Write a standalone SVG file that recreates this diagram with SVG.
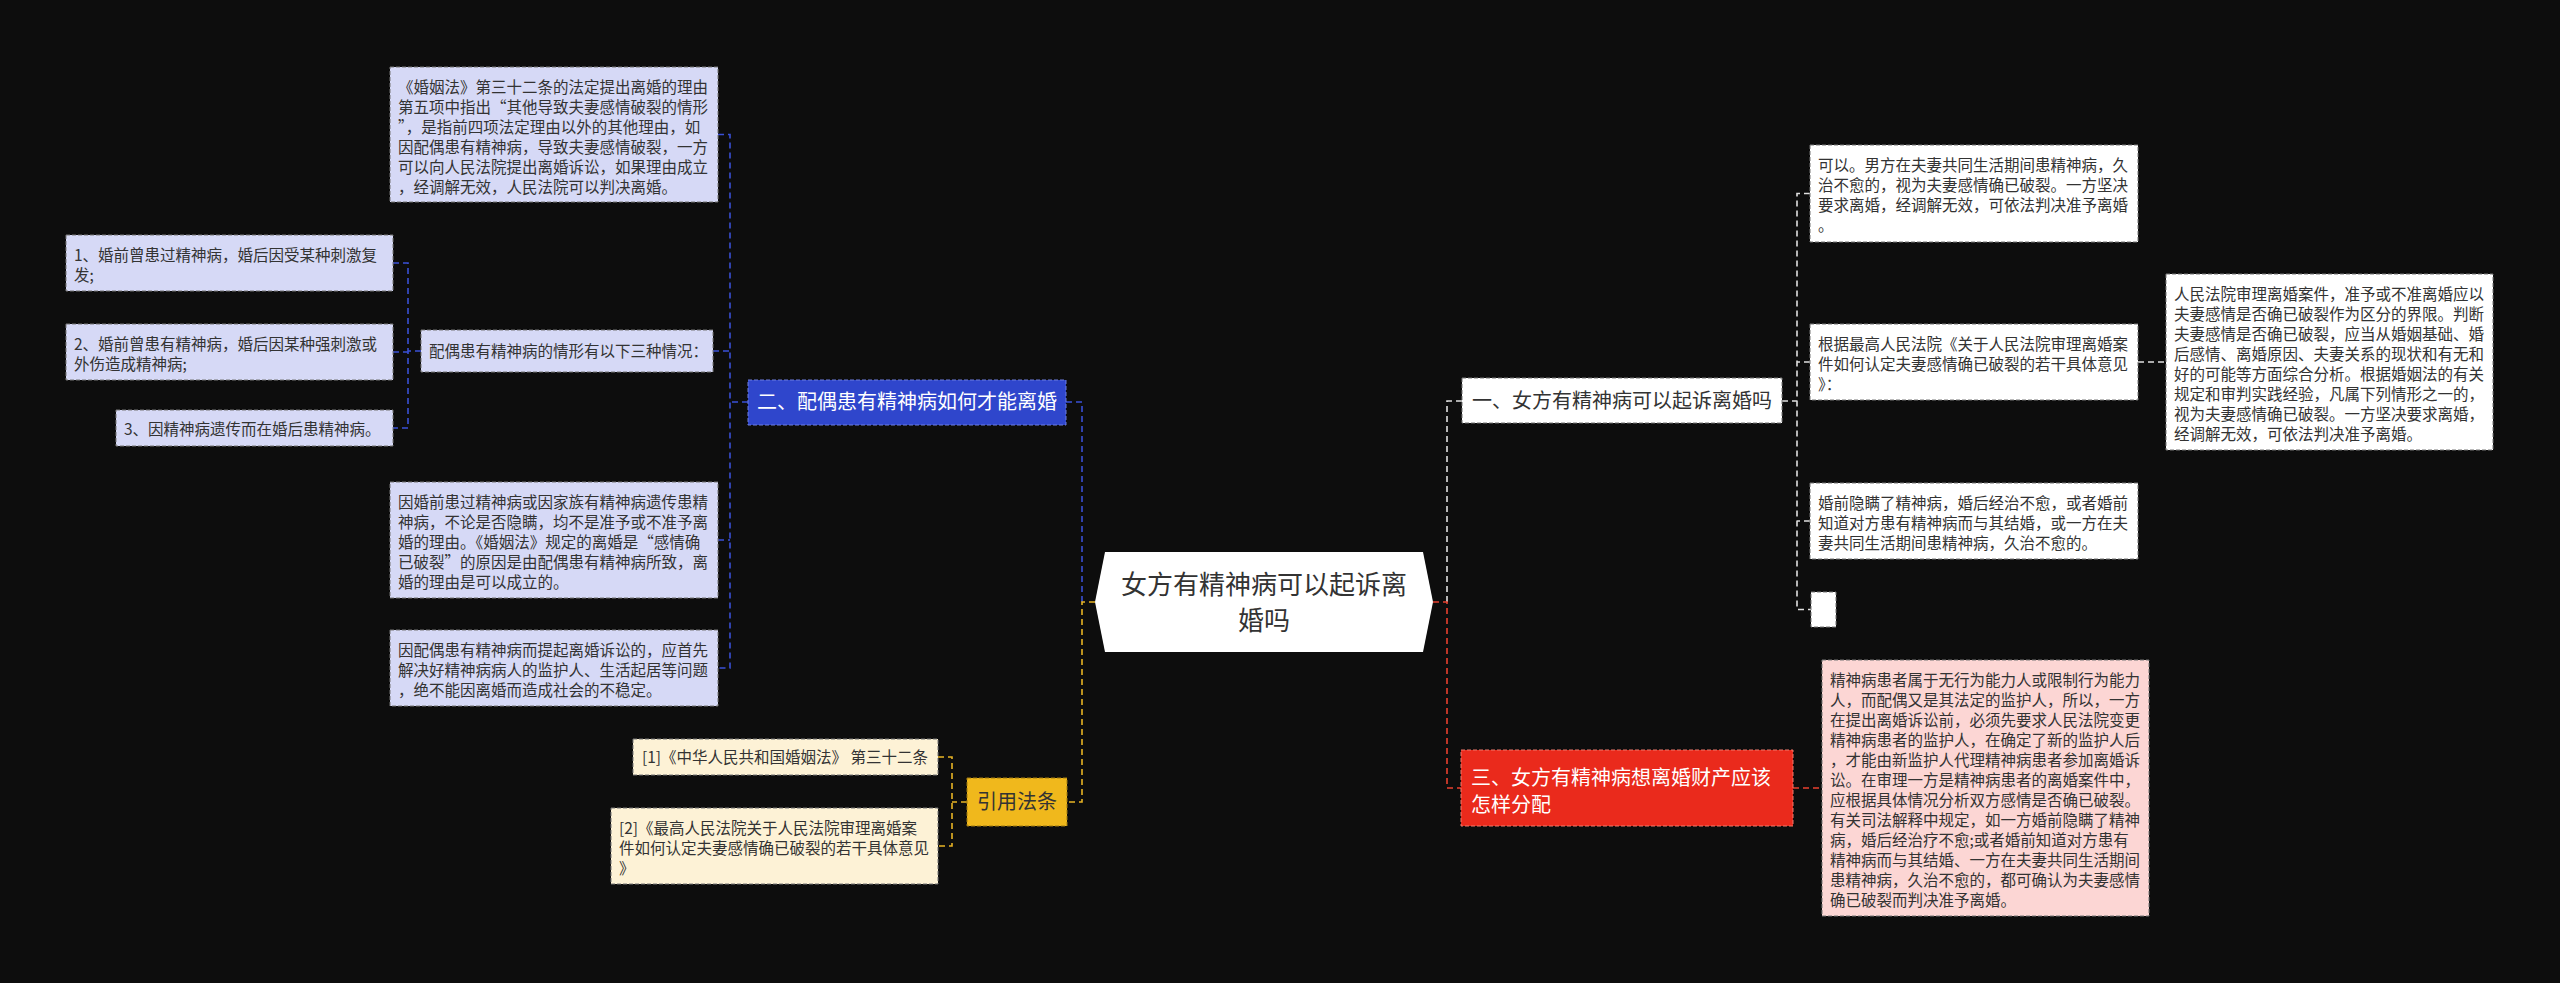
<svg xmlns="http://www.w3.org/2000/svg" width="2560" height="983" viewBox="0 0 2560 983">
<style>
text{font-family:"Noto Sans CJK SC","Noto Sans",sans-serif;fill:#333;}
.s{font-size:15.5px;}
.b{font-size:20px;}
.box{stroke:#777;stroke-width:1;stroke-dasharray:4 2;}
.lav{fill:#d6d9f6;}
.wht{fill:#ffffff;}
.crm{fill:#fdf2d6;}
.pnk{fill:#fcd6d4;}
.c{fill:none;stroke-width:1.6;stroke-dasharray:6 4;}
.cb{stroke:#3a50d6;}
.cy{stroke:#e8b425;}
.cw{stroke:#e0e0e0;}
.cr{stroke:#e8402f;}
</style>
<rect width="2560" height="983" fill="#0d0d0d"/>
<g id="connectors">
<path class="c cb" d="M1082,602 V402 H1066"/>
<path class="c cy" d="M1095,602 H1082 V802 H1067"/>
<path class="c cw" d="M1447,602 V401 H1462"/>
<path class="c cr" d="M1433,602 H1447 V788 H1461"/>
<path class="c cb" d="M748,402 H730 M718,134.5 H730 V668 H718 M713,351 H730 M718,540 H730"/>
<path class="c cb" d="M421,351 H408 M393,263 H408 V428 H393 M393,352 H408"/>
<path class="c cy" d="M967,802 H952 M938,757 H952 V846 H938"/>
<path class="c cw" d="M1782,401 H1797 M1810,193.5 H1797 V609.5 H1811 M1810,362 H1797 M1810,521 H1797"/>
<path class="c cw" d="M2138,362 H2166"/>
<path class="c cr" d="M1793,788 H1822"/>
</g>
<g id="center">
<polygon points="1105,552 1423,552 1433,602 1423,652 1105,652 1095,602" fill="#ffffff"/>
<text x="1264" y="594" font-size="26" text-anchor="middle">女方有精神病可以起诉离</text>
<text x="1264" y="630" font-size="26" text-anchor="middle">婚吗</text>
</g>
<g id="n2">
<rect x="748" y="380" width="318" height="45" fill="#2f46cc" class="box" style="stroke:#6f7fe0"/>
<text x="907" y="409" class="b" text-anchor="middle" style="fill:#ffffff">二、配偶患有精神病如何才能离婚</text>
</g>
<g id="n2a">
<rect x="390" y="67" width="328" height="135" class="box lav"/>
<text class="s" x="398" y="92.5">《婚姻法》第三十二条的法定提出离婚的理由</text>
<text class="s" x="398" y="112.5">第五项中指出“其他导致夫妻感情破裂的情形</text>
<text class="s" x="398" y="132.5">”，是指前四项法定理由以外的其他理由，如</text>
<text class="s" x="398" y="152.5">因配偶患有精神病，导致夫妻感情破裂，一方</text>
<text class="s" x="398" y="172.5">可以向人民法院提出离婚诉讼，如果理由成立</text>
<text class="s" x="398" y="192.5">，经调解无效，人民法院可以判决离婚。</text>
</g>
<g id="n2b">
<rect x="421" y="330" width="292" height="42" class="box lav"/>
<text class="s" x="429" y="356.5">配偶患有精神病的情形有以下三种情况：</text>
</g>
<g id="n2b1">
<rect x="66" y="235" width="327" height="56" class="box lav"/>
<text class="s" x="74" y="260.5">1、婚前曾患过精神病，婚后因受某种刺激复</text>
<text class="s" x="74" y="280.5">发;</text>
</g>
<g id="n2b2">
<rect x="66" y="324" width="327" height="56" class="box lav"/>
<text class="s" x="74" y="349.5">2、婚前曾患有精神病，婚后因某种强刺激或</text>
<text class="s" x="74" y="369.5">外伤造成精神病;</text>
</g>
<g id="n2b3">
<rect x="116" y="410" width="277" height="36" class="box lav"/>
<text class="s" x="124" y="435">3、因精神病遗传而在婚后患精神病。</text>
</g>
<g id="n2c">
<rect x="390" y="482" width="328" height="116" class="box lav"/>
<text class="s" x="398" y="507.5">因婚前患过精神病或因家族有精神病遗传患精</text>
<text class="s" x="398" y="527.5">神病，不论是否隐瞒，均不是准予或不准予离</text>
<text class="s" x="398" y="547.5">婚的理由。《婚姻法》规定的离婚是“感情确</text>
<text class="s" x="398" y="567.5">已破裂”的原因是由配偶患有精神病所致，离</text>
<text class="s" x="398" y="587.5">婚的理由是可以成立的。</text>
</g>
<g id="n2d">
<rect x="390" y="630" width="328" height="76" class="box lav"/>
<text class="s" x="398" y="655.5">因配偶患有精神病而提起离婚诉讼的，应首先</text>
<text class="s" x="398" y="675.5">解决好精神病病人的监护人、生活起居等问题</text>
<text class="s" x="398" y="695.5">，绝不能因离婚而造成社会的不稳定。</text>
</g>
<g id="cite">
<rect x="967" y="778" width="100" height="48" fill="#f0b81c" class="box" style="stroke:#a07a10"/>
<text x="1017" y="809" class="b" text-anchor="middle">引用法条</text>
</g>
<g id="cite1">
<rect x="633" y="739" width="305" height="36" class="box crm"/>
<text class="s" x="642" y="763">[1]《中华人民共和国婚姻法》 第三十二条</text>
</g>
<g id="cite2">
<rect x="611" y="808" width="327" height="76" class="box crm"/>
<text class="s" x="619" y="833.5">[2]《最高人民法院关于人民法院审理离婚案</text>
<text class="s" x="619" y="853.5">件如何认定夫妻感情确已破裂的若干具体意见</text>
<text class="s" x="619" y="873.5">》</text>
</g>
<g id="n1">
<rect x="1462" y="378" width="320" height="45" class="box wht"/>
<text x="1622" y="408" class="b" text-anchor="middle">一、女方有精神病可以起诉离婚吗</text>
</g>
<g id="n1a">
<rect x="1810" y="145" width="328" height="97" class="box wht"/>
<text class="s" x="1818" y="170.5">可以。男方在夫妻共同生活期间患精神病，久</text>
<text class="s" x="1818" y="190.5">治不愈的，视为夫妻感情确已破裂。一方坚决</text>
<text class="s" x="1818" y="210.5">要求离婚，经调解无效，可依法判决准予离婚</text>
<text class="s" x="1818" y="230.5">。</text>
</g>
<g id="n1b">
<rect x="1810" y="324" width="328" height="76" class="box wht"/>
<text class="s" x="1818" y="349.5">根据最高人民法院《关于人民法院审理离婚案</text>
<text class="s" x="1818" y="369.5">件如何认定夫妻感情确已破裂的若干具体意见</text>
<text class="s" x="1818" y="389.5">》：</text>
</g>
<g id="n1b1">
<rect x="2166" y="274" width="327" height="176" class="box wht"/>
<text class="s" x="2174" y="299.5">人民法院审理离婚案件，准予或不准离婚应以</text>
<text class="s" x="2174" y="319.5">夫妻感情是否确已破裂作为区分的界限。判断</text>
<text class="s" x="2174" y="339.5">夫妻感情是否确已破裂，应当从婚姻基础、婚</text>
<text class="s" x="2174" y="359.5">后感情、离婚原因、夫妻关系的现状和有无和</text>
<text class="s" x="2174" y="379.5">好的可能等方面综合分析。根据婚姻法的有关</text>
<text class="s" x="2174" y="399.5">规定和审判实践经验，凡属下列情形之一的，</text>
<text class="s" x="2174" y="419.5">视为夫妻感情确已破裂。一方坚决要求离婚，</text>
<text class="s" x="2174" y="439.5">经调解无效，可依法判决准予离婚。</text>
</g>
<g id="n1c">
<rect x="1810" y="483" width="328" height="76" class="box wht"/>
<text class="s" x="1818" y="508.5">婚前隐瞒了精神病，婚后经治不愈，或者婚前</text>
<text class="s" x="1818" y="528.5">知道对方患有精神病而与其结婚，或一方在夫</text>
<text class="s" x="1818" y="548.5">妻共同生活期间患精神病，久治不愈的。</text>
</g>
<g id="n1d">
<rect x="1811" y="592" width="25" height="35" class="box wht"/>
</g>
<g id="n3">
<rect x="1461" y="750" width="332" height="76" fill="#ea2a1c" class="box" style="stroke:#f07a6c"/>
<text x="1471" y="785" class="b" style="fill:#ffffff">三、女方有精神病想离婚财产应该</text>
<text x="1471" y="812" class="b" style="fill:#ffffff">怎样分配</text>
</g>
<g id="n3a">
<rect x="1822" y="660" width="327" height="256" class="box pnk"/>
<text class="s" x="1830" y="685.5">精神病患者属于无行为能力人或限制行为能力</text>
<text class="s" x="1830" y="705.5">人，而配偶又是其法定的监护人，所以，一方</text>
<text class="s" x="1830" y="725.5">在提出离婚诉讼前，必须先要求人民法院变更</text>
<text class="s" x="1830" y="745.5">精神病患者的监护人，在确定了新的监护人后</text>
<text class="s" x="1830" y="765.5">，才能由新监护人代理精神病患者参加离婚诉</text>
<text class="s" x="1830" y="785.5">讼。在审理一方是精神病患者的离婚案件中，</text>
<text class="s" x="1830" y="805.5">应根据具体情况分析双方感情是否确已破裂。</text>
<text class="s" x="1830" y="825.5">有关司法解释中规定，如一方婚前隐瞒了精神</text>
<text class="s" x="1830" y="845.5">病，婚后经治疗不愈;或者婚前知道对方患有</text>
<text class="s" x="1830" y="865.5">精神病而与其结婚、一方在夫妻共同生活期间</text>
<text class="s" x="1830" y="885.5">患精神病，久治不愈的，都可确认为夫妻感情</text>
<text class="s" x="1830" y="905.5">确已破裂而判决准予离婚。</text>
</g>
</svg>
